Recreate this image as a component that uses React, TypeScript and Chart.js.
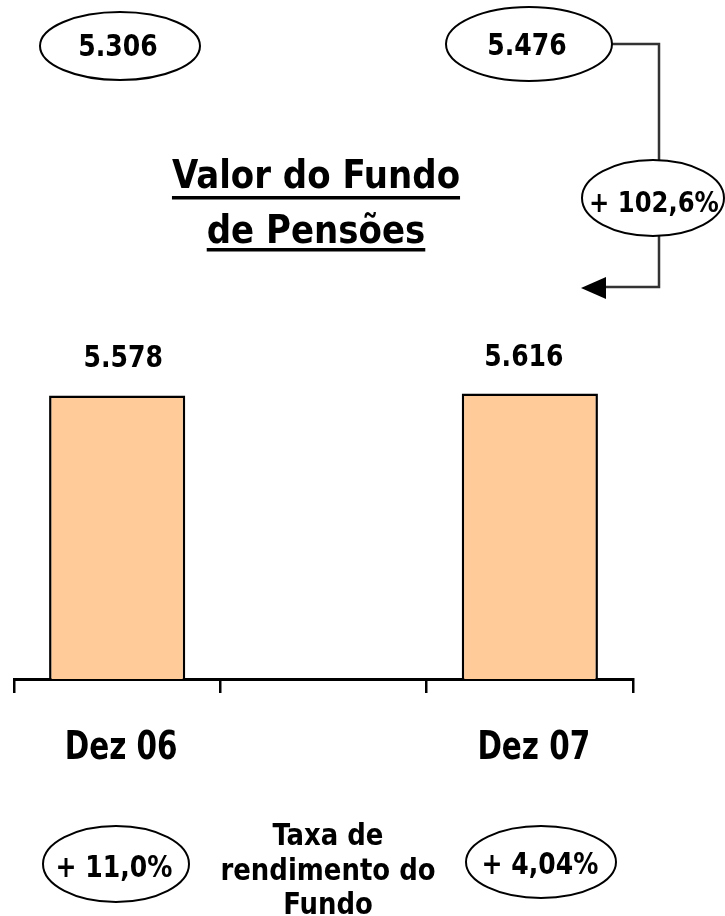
import React, { useEffect, useRef } from "react";
import { Chart, registerables } from "chart.js";

Chart.register(...registerables);

const categories = ["Dez 06", "", "Dez 07"];
const fundValues: (number | null)[] = [5.578, null, 5.616];
const fundLabels = ["5.578", "", "5.616"];
const topValues = ["5.306", "5.476"];
const growthLabel = "+ 102,6%";
const returnRates = ["+ 11,0%", "+ 4,04%"];
const titleLines = ["Valor do Fundo", "de Pensões"];
const returnCaption = ["Taxa de", "rendimento do", "Fundo"];

const FAMILY = '"DejaVu Sans Condensed", "DejaVu Sans", sans-serif';

function setFont(ctx: CanvasRenderingContext2D, size: number) {
  ctx.font = `bold ${size}px ${FAMILY}`;
  try {
    (ctx as any).fontStretch = "condensed";
  } catch (e) {}
}

function text(ctx: CanvasRenderingContext2D, t: string, x: number, y: number, size: number, sx = 1) {
  setFont(ctx, size);
  ctx.save();
  ctx.translate(x, y);
  ctx.scale(sx, 1);
  ctx.fillText(t, 0, 0);
  ctx.restore();
}

function ellipse(ctx: CanvasRenderingContext2D, cx: number, cy: number, rx: number, ry: number) {
  ctx.beginPath();
  ctx.ellipse(cx, cy, rx, ry, 0, 0, Math.PI * 2);
  ctx.fillStyle = "#ffffff";
  ctx.fill();
  ctx.lineWidth = 2;
  ctx.strokeStyle = "#000000";
  ctx.stroke();
}

const annotations = {
  id: "annotations",
  afterDraw(chart: any) {
    const ctx: CanvasRenderingContext2D = chart.ctx;
    const xScale = chart.scales.x;
    const meta = chart.getDatasetMeta(0);
    ctx.save();
    ctx.fillStyle = "#000";
    ctx.textAlign = "center";
    ctx.textBaseline = "alphabetic";

    // connector lines
    ctx.strokeStyle = "#333333";
    ctx.lineWidth = 2.5;
    ctx.beginPath();
    ctx.moveTo(612, 44);
    ctx.lineTo(659, 44);
    ctx.lineTo(659, 162);
    ctx.moveTo(659, 235);
    ctx.lineTo(659, 287);
    ctx.lineTo(604, 287);
    ctx.stroke();
    ctx.fillStyle = "#000";
    ctx.beginPath();
    ctx.moveTo(581, 288);
    ctx.lineTo(606, 277);
    ctx.lineTo(606, 299);
    ctx.closePath();
    ctx.fill();

    // top ellipses
    ellipse(ctx, 120, 46, 80, 34);
    ellipse(ctx, 529, 44, 83, 37);
    ellipse(ctx, 653, 198, 71, 38);
    ctx.fillStyle = "#000";
    text(ctx, topValues[0], 118, 56, 30, 0.93);
    text(ctx, topValues[1], 527, 55, 30, 0.93);
    text(ctx, growthLabel, 654, 212, 29, 0.93);

    // title
    const tBase = [188, 243];
    const tUnder = [196, 248];
    titleLines.forEach((t, i) => {
      text(ctx, t, 316, tBase[i], 39, 0.97);
      setFont(ctx, 39);
      const w = ctx.measureText(t).width * 0.97;
      ctx.fillRect(316 - w / 2, tUnder[i], w, 3.5);
    });

    // bar value labels
    const labelShift = [6, -6, -6];
    meta.data.forEach((bar: any, i: number) => {
      if (fundValues[i] == null) return;
      text(ctx, fundLabels[i], bar.x + labelShift[i], bar.y - 28, 30, 0.93);
    });

    // category labels
    categories.forEach((c, i) => {
      if (!c) return;
      const x = xScale.getPixelForValue(i);
      text(ctx, c, x + 4, 759, 39, 0.84);
    });

    // bottom ellipses
    ellipse(ctx, 116, 864, 73, 38);
    ellipse(ctx, 541, 862, 75, 36);
    ctx.fillStyle = "#000";
    text(ctx, returnRates[0], 114, 877, 30, 0.93);
    text(ctx, returnRates[1], 540, 874, 30, 0.93);

    // caption
    const cBase = [845, 880, 914];
    returnCaption.forEach((t, i) => text(ctx, t, 328, cBase[i], 31, 0.93));

    ctx.restore();
  },
};

export default function App() {
  const ref = useRef<HTMLCanvasElement | null>(null);
  useEffect(() => {
    if (!ref.current) return;
    const chart = new Chart(ref.current, {
      type: "bar",
      data: {
        labels: categories,
        datasets: [
          {
            data: fundValues,
            backgroundColor: "#FFCC99",
            borderColor: "#000000",
            borderWidth: 2.5,
            barPercentage: 0.66,
            categoryPercentage: 1,
          },
        ],
      },
      options: {
        animation: false,
        responsive: false,
        maintainAspectRatio: false,
        devicePixelRatio: 1,
        layout: { padding: { left: 14, right: 92, top: 374, bottom: 223 } },
        plugins: { legend: { display: false }, tooltip: { enabled: false }, title: { display: false } },
        scales: {
          x: {
            offset: true,
            ticks: { display: false },
            grid: {
              display: true,
              offset: true,
              drawOnChartArea: false,
              drawTicks: true,
              tickLength: 14,
              color: "#000000",
              lineWidth: 2.5,
            },
            border: { display: true, color: "#000000", width: 3 },
          },
          y: {
            display: false,
            min: 0,
            max: 6,
          },
        },
      },
      plugins: [annotations],
    });
    return () => chart.destroy();
  }, []);
  return (
    <div style={{ position: "absolute", left: 0, top: 0, width: 725, height: 916, background: "#fff" }}>
      <canvas ref={ref} width={725} height={916} style={{ display: "block", width: 725, height: 916 }} />
    </div>
  );
}
